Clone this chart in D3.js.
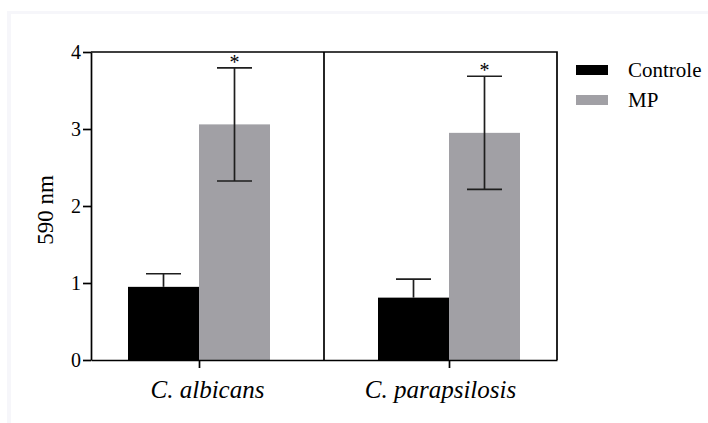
<!DOCTYPE html>
<html>
<head>
<meta charset="utf-8">
<script src="https://cdn.jsdelivr.net/npm/d3@7"></script>
<style>
    body { margin: 0; background: #ffffff; }
    svg { display: block; }
</style>
</head>
<body>
<svg id="chart" width="708" height="423"></svg>
<script>
var categories = ["C. albicans", "C. parapsilosis"];
var seriesNames = ["Controle", "MP"];
var controleMeans = [0.95, 0.81];
var controleErrors = [0.17, 0.24];
var mpMeans = [3.06, 2.95];
var mpErrors = [0.735, 0.735];
var significant = [true, true];
var yTicks = [0, 1, 2, 3, 4];
var seriesColors = ["#000000", "#a1a0a5"];

var serif = "Liberation Serif";
var svg = d3.select("#chart");
var margin = { left: 91, right: 151, top: 52, bottom: 63 };
var width = +svg.attr("width"), height = +svg.attr("height");
var plotRight = width - margin.right, plotBottom = height - margin.bottom;

// faint frame around the figure
svg.append("rect").attr("x", 7).attr("y", 11).attr("width", 720).attr("height", 430).attr("fill", "#f6f6fa");
svg.append("rect").attr("x", 11).attr("y", 14).attr("width", 720).attr("height", 430).attr("fill", "#ffffff");

var y = d3.scaleLinear().domain([0, 4]).range([plotBottom, margin.top]);
var x = d3.scalePoint().domain(categories).range([margin.left, plotRight]).padding(0.432);
var xInner = d3.scaleBand().domain(seriesNames).range([-71, 71]);

var data = categories.map(function (c, i) {
    return {
        category: c,
        values: [
            { series: "Controle", mean: controleMeans[i], err: controleErrors[i] },
            { series: "MP", mean: mpMeans[i], err: mpErrors[i], star: significant[i] }
        ]
    };
});

var groups = svg.append("g").selectAll("g")
    .data(data)
    .join("g")
    .attr("transform", function (d) { return "translate(" + x(d.category) + ",0)"; });

groups.selectAll("rect")
    .data(function (d) { return d.values; })
    .join("rect")
    .attr("x", function (d) { return xInner(d.series); })
    .attr("width", xInner.bandwidth())
    .attr("y", function (d) { return y(d.mean); })
    .attr("height", function (d) { return y(0) - y(d.mean); })
    .attr("fill", function (d, i) { return seriesColors[i]; });

var errs = groups.selectAll("g.err")
    .data(function (d) { return d.values; })
    .join("g")
    .attr("class", "err")
    .attr("transform", function (d) { return "translate(" + (xInner(d.series) + xInner.bandwidth() / 2) + ",0)"; })
    .style("stroke", "#1e1e1e")
    .style("stroke-width", 1.7);

// black bars hide their lower whisker, so only the upper half is drawn there
errs.append("line")
    .attr("y1", function (d) { return d.series == "MP" ? y(d.mean - d.err) : y(d.mean); })
    .attr("y2", function (d) { return y(d.mean + d.err); });
errs.append("line")
    .attr("x1", -17.5).attr("x2", 17.5)
    .attr("y1", function (d) { return y(d.mean + d.err); })
    .attr("y2", function (d) { return y(d.mean + d.err); });
errs.filter(function (d) { return d.series == "MP"; }).append("line")
    .attr("x1", -17.5).attr("x2", 17.5)
    .attr("y1", function (d) { return y(d.mean - d.err); })
    .attr("y2", function (d) { return y(d.mean - d.err); });

errs.filter(function (d) { return d.star; }).append("text")
    .attr("y", function (d) { return y(d.mean + d.err) + 1; })
    .attr("text-anchor", "middle")
    .attr("font-family", serif)
    .attr("font-size", 20)
    .style("stroke", "none")
    .text("*");

// y axis
var yAxis = svg.append("g")
    .attr("transform", "translate(" + margin.left + ",0)")
    .call(d3.axisLeft(y).tickValues(yTicks).tickFormat(d3.format("d")).tickSize(8).tickSizeOuter(0).tickPadding(2))
    .attr("font-family", serif)
    .attr("font-size", 20);
yAxis.selectAll("path, line").attr("stroke", "#000").attr("stroke-width", 1.7);
yAxis.selectAll("text").attr("fill", "#000").attr("dy", "0.34em");

svg.append("text")
    .attr("transform", "translate(53," + ((margin.top + plotBottom) / 2 + 4) + ") rotate(-90)")
    .attr("text-anchor", "middle")
    .attr("font-family", serif)
    .attr("font-size", 23)
    .text("590 nm");

// x axis
var xAxis = svg.append("g")
    .attr("transform", "translate(0," + plotBottom + ")")
    .call(d3.axisBottom(x).tickSize(8).tickSizeOuter(0).tickFormat(""));
xAxis.selectAll("path, line").attr("stroke", "#000").attr("stroke-width", 1.7);

// frame: top, right and panel divider
var mid = (x(categories[0]) + x(categories[1])) / 2;
svg.append("path")
    .attr("d", "M" + margin.left + "," + margin.top + "H" + plotRight + "V" + plotBottom +
        "M" + mid + "," + margin.top + "V" + plotBottom)
    .attr("fill", "none")
    .attr("stroke", "#000")
    .attr("stroke-width", 1.7);

var panelCenters = [(margin.left + mid) / 2, (mid + plotRight) / 2];
svg.append("g").selectAll("text")
    .data(categories)
    .join("text")
    .attr("x", function (d, i) { return panelCenters[i]; })
    .attr("y", plotBottom + 38)
    .attr("text-anchor", "middle")
    .attr("font-family", serif)
    .attr("font-size", 25)
    .attr("font-style", "italic")
    .text(function (d) { return d; });

// legend
var legend = svg.append("g").attr("transform", "translate(576,70)")
    .selectAll("g")
    .data(seriesNames)
    .join("g")
    .attr("transform", function (d, i) { return "translate(0," + i * 30 + ")"; });
legend.append("rect")
    .attr("y", -5).attr("width", 32).attr("height", 10)
    .attr("fill", function (d, i) { return seriesColors[i]; });
legend.append("text")
    .attr("x", 52).attr("y", 7)
    .attr("font-family", serif)
    .attr("font-size", 21)
    .text(function (d) { return d; });
</script>
</body>
</html>
